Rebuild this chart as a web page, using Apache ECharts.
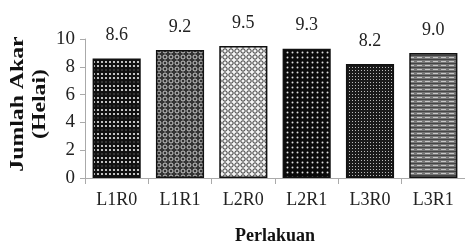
<!DOCTYPE html>
<html>
<head>
<meta charset="utf-8">
<script src="https://cdn.jsdelivr.net/npm/echarts@6/dist/echarts.min.js"></script>
<style>
  html, body { margin: 0; padding: 0; background: #fff; }
  #chart { width: 465px; height: 246px; }
</style>
</head>
<body>
<div id="chart"></div>
<script>
// data
var categories = ['L1R0', 'L1R1', 'L2R0', 'L2R1', 'L3R0', 'L3R1'];
var jumlahAkar = [8.6, 9.2, 9.5, 9.3, 8.2, 9.0];
var yTicks = [0, 2, 4, 6, 8, 10];

var serif = '"Liberation Serif", "DejaVu Serif", serif';

// small tiles for the hatched bar fills
function tile(w, h, draw) {
    var c = document.createElement('canvas');
    c.width = w;
    c.height = h;
    var ctx = c.getContext('2d');
    draw(ctx, w, h);
    return { image: c, repeat: 'repeat' };
}
function dot(ctx, x, y, r, col) {
    ctx.fillStyle = col;
    ctx.beginPath();
    ctx.arc(x, y, r, 0, Math.PI * 2);
    ctx.fill();
}
function ring(ctx, x, y, r, col) {
    ctx.strokeStyle = col;
    ctx.lineWidth = 1;
    ctx.beginPath();
    ctx.arc(x, y, r, 0, Math.PI * 2);
    ctx.stroke();
}

var fills = [
    // L1R0 - black with white dots, dark bands
    tile(4, 12, function (ctx, w, h) {
        ctx.fillStyle = '#111'; ctx.fillRect(0, 0, w, h);
        dot(ctx, 2, 2, 1.1, '#eee');
        dot(ctx, 2, 6, 1.1, '#eee');
        dot(ctx, 2, 10, 0.7, '#777');
    }),
    // L1R1 - dark with light rings
    tile(6, 6, function (ctx, w, h) {
        ctx.fillStyle = '#333'; ctx.fillRect(0, 0, w, h);
        ring(ctx, 3, 3, 2, '#ccc');
    }),
    // L2R0 - light with dark rings
    tile(6, 6, function (ctx, w, h) {
        ctx.fillStyle = '#f4f4f4'; ctx.fillRect(0, 0, w, h);
        ring(ctx, 3, 3, 2.2, '#333');
    }),
    // L2R1 - black with sparse white dots
    tile(5, 5, function (ctx, w, h) {
        ctx.fillStyle = '#0a0a0a'; ctx.fillRect(0, 0, w, h);
        dot(ctx, 2.5, 2.5, 1, '#ddd');
    }),
    // L3R0 - dark with fine dot columns
    tile(3, 3, function (ctx, w, h) {
        ctx.fillStyle = '#1a1a1a'; ctx.fillRect(0, 0, w, h);
        ctx.fillStyle = '#bbb'; ctx.fillRect(1, 1, 1, 1);
    }),
    // L3R1 - grey with horizontal dashes
    tile(8, 4, function (ctx, w, h) {
        ctx.fillStyle = '#777'; ctx.fillRect(0, 0, w, h);
        ctx.fillStyle = '#c8c8c8'; ctx.fillRect(1, 1, 5, 1);
        ctx.fillStyle = '#444'; ctx.fillRect(0, 3, 8, 1);
    })
];

var myChart = echarts.init(document.getElementById('chart'));

var barData = jumlahAkar.map(function (v, i) {
    return { value: v, itemStyle: { color: fills[i] } };
});

var option = {
    animation: false,
    grid: { left: 85, right: 0, top: 39, bottom: 68, outerBoundsMode: 'none', containLabel: false },
    xAxis: {
        type: 'category',
        data: categories,
        axisLine: { lineStyle: { color: '#aaa', width: 1 } },
        axisTick: { show: true, length: 6, lineStyle: { color: '#aaa' } },
        axisLabel: { color: '#222', fontFamily: serif, fontSize: 18, margin: 13 },
        name: 'Perlakuan',
        nameLocation: 'middle',
        nameGap: 49,
        nameTextStyle: { color: '#111', fontFamily: serif, fontSize: 18, fontWeight: 'bold' }
    },
    yAxis: {
        type: 'value',
        min: yTicks[0],
        max: yTicks[yTicks.length - 1],
        interval: 2,
        axisLine: { show: true, lineStyle: { color: '#aaa', width: 1 } },
        axisTick: { show: true, length: 5, lineStyle: { color: '#aaa' } },
        splitLine: { show: false },
        axisLabel: { color: '#222', fontFamily: serif, fontSize: 19, margin: 10 }
    },
    graphic: [{
        type: 'text',
        x: 29,
        y: 104,
        rotation: Math.PI / 2,
        scaleX: 1.25,
        style: {
            text: 'Jumlah Akar\n(Helai)',
            font: 'bold 19px ' + serif,
            fill: '#111',
            align: 'center',
            verticalAlign: 'middle',
            lineHeight: 22
        },
        originX: 0, originY: 0
    }],
    series: [{
        type: 'bar',
        data: barData,
        barCategoryGap: '24%',
        itemStyle: { borderColor: '#111', borderWidth: 1.5 },
        label: {
            show: true,
            position: 'top',
            distance: 14,
            color: '#222',
            fontFamily: serif,
            fontSize: 18,
            formatter: function (p) { return p.value.toFixed(1); }
        }
    }]
};
myChart.setOption(option);
</script>
</body>
</html>
